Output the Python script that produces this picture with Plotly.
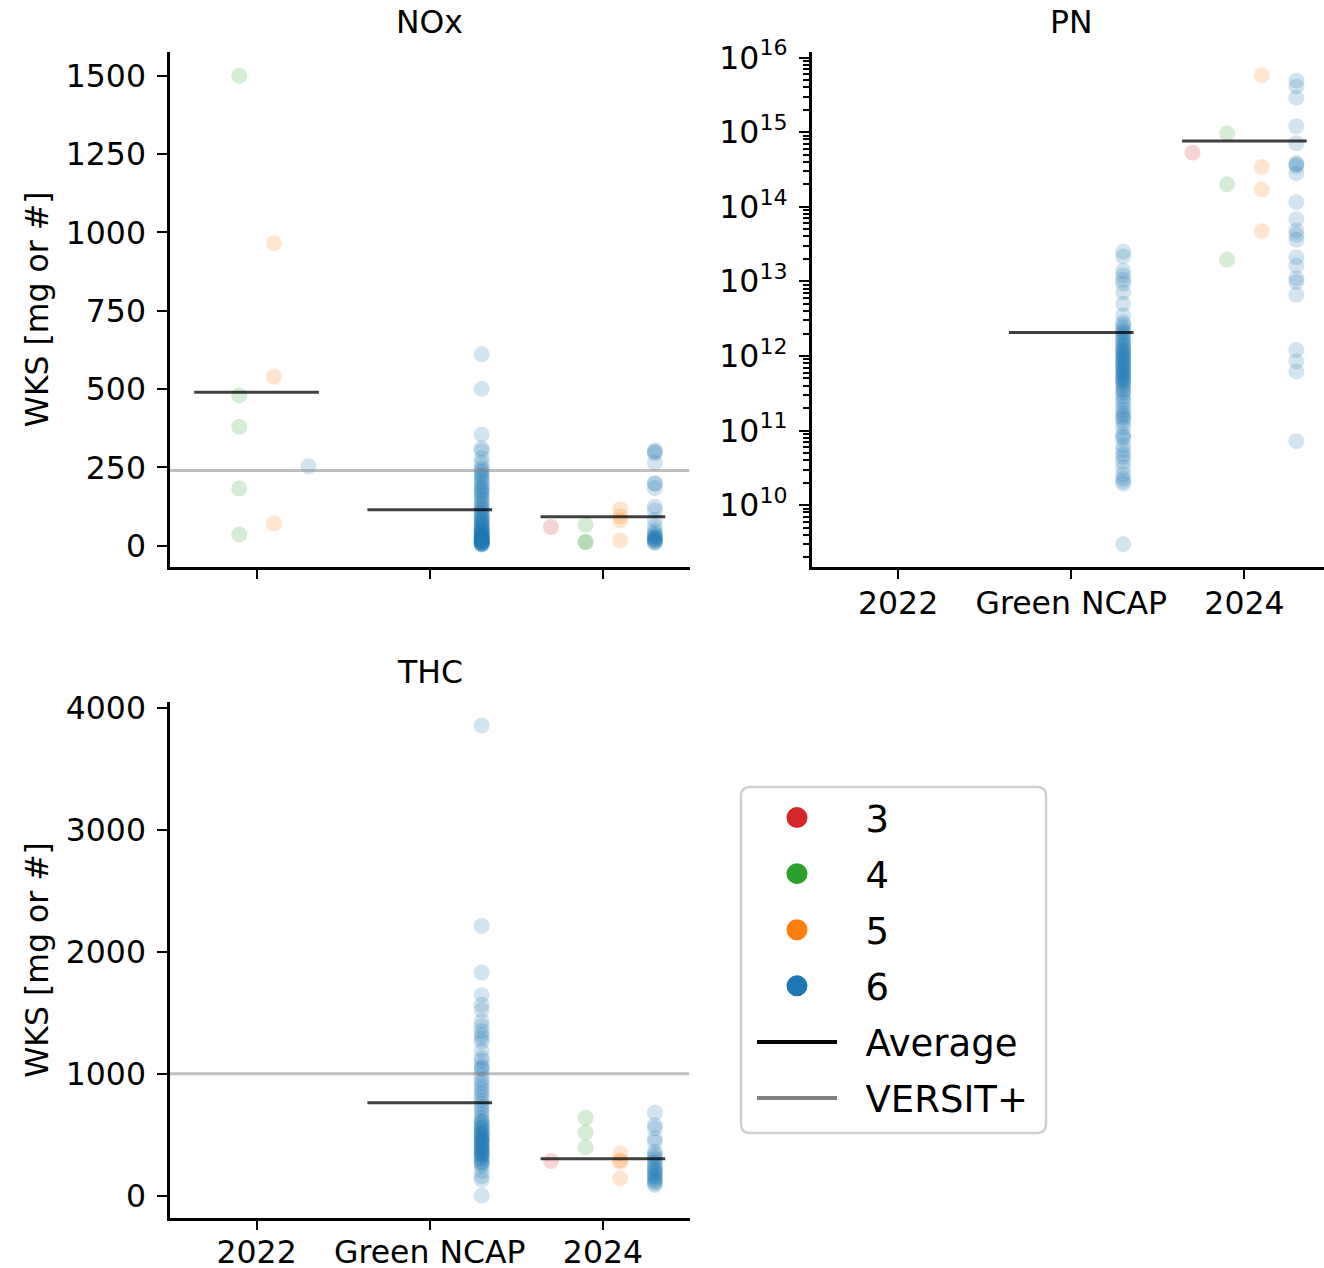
import plotly.graph_objects as go

FIG_W, FIG_H = 1324, 1268
FONT = "DejaVu Sans"

categories = ["2022", "Green NCAP", "2024"]
euro_classes = ["3", "4", "5", "6"]

# ---- NOx per test [mg] ----
nox_2022_euro4 = [1500, 480, 380, 183, 36]
nox_2022_euro5 = [966, 540, 71]
nox_2022_euro6 = [254]
nox_ncap_euro6 = [611, 501, 355, 311, 303, 280, 265, 250, 242, 236,
                  228, 222, 215, 205, 200, 190, 185, 178, 172, 166,
                  158, 150, 142, 135, 128, 121, 115, 110, 104, 98,
                  93, 88, 84, 80, 76, 72, 68, 64, 60, 57,
                  54, 51, 48, 45, 42, 40, 38, 36, 34, 32,
                  30, 28, 26, 24, 22, 20, 19, 18, 16, 15,
                  14, 12, 11, 10, 9, 8, 7, 6, 5, 4]
nox_2024_euro3 = [60]
nox_2024_euro4 = [67, 12, 12]
nox_2024_euro5 = [117, 94, 81, 17]
nox_2024_euro6 = [304, 300, 296, 266, 200, 198, 184, 125, 113, 83, 62,
                  48, 40, 35, 30, 26, 25, 22, 20, 17, 14, 11, 9]

# ---- PN per test [#] ----
pn_ncap_euro6 = [2.5e13, 2.14e13, 1.38e13, 1.2e13, 1.05e13, 9.3e12, 7.1e12, 5.0e12, 3.5e12,
                 2.8e12, 2.6e12, 2.4e12, 2.2e12, 2.1e12, 1.95e12, 1.8e12, 1.7e12, 1.6e12, 1.5e12,
                 1.4e12, 1.35e12, 1.25e12, 1.2e12, 1.15e12, 1.1e12, 1.05e12, 1.0e12, 9.5e11, 9.1e11,
                 8.7e11, 8.3e11, 7.9e11, 7.6e11, 7.2e11, 6.9e11, 6.6e11, 6.3e11, 6.0e11, 5.8e11,
                 5.5e11, 5.2e11, 5.0e11, 4.8e11, 4.6e11, 4.4e11, 4.2e11, 3.9e11, 3.6e11, 3.4e11,
                 3.2e11, 2.9e11, 2.6e11, 2.4e11, 2.1e11, 1.9e11, 1.7e11, 1.6e11, 1.5e11, 1.4e11,
                 1.25e11, 1.1e11, 8.9e10, 8.3e10, 7.8e10, 6.3e10, 5.5e10, 4.8e10, 4.4e10, 3.8e10,
                 3.2e10, 2.6e10, 2.3e10, 2.1e10, 1.95e10, 3.0e9]
pn_2024_euro3 = [5.3e14]
pn_2024_euro4 = [9.6e14, 2.0e14, 1.96e13]
pn_2024_euro5 = [5.8e15, 3.4e14, 1.7e14, 4.7e13]
pn_2024_euro6 = [4.9e15, 4.1e15, 2.9e15, 1.2e15, 7.1e14, 3.8e14, 3.7e14, 2.8e14,
                 1.15e14, 6.8e13, 4.8e13, 4.2e13, 3.6e13, 2.1e13, 1.62e13, 1.1e13,
                 9.8e12, 6.6e12, 1.2e12, 8.5e11, 6.2e11, 7.2e10, 3.5e14]

# ---- THC per test [mg] ----
thc_ncap_euro6 = [3856, 2212, 1830, 1644, 1565, 1520, 1431, 1389, 1350, 1318,
                  1290, 1262, 1191, 1130, 1106, 1063, 1045, 1035, 990, 950,
                  925, 894, 866, 840, 810, 780, 752, 725, 700, 668,
                  640, 611, 610, 590, 570, 560, 554, 535, 520, 515,
                  505, 498, 485, 470, 460, 455, 450, 440, 425, 413,
                  400, 395, 385, 380, 370, 356, 350, 340, 330, 325,
                  310, 300, 280, 270, 262, 243, 200, 158, 130, 0]
thc_2024_euro3 = [283]
thc_2024_euro4 = [638, 518, 395]
thc_2024_euro5 = [346, 290, 275, 141]
thc_2024_euro6 = [679, 578, 551, 469, 440, 360, 340, 318, 300, 277, 260, 236,
                  220, 210, 195, 180, 165, 154, 140, 125, 113, 100, 86]

# VERSIT+ reference emission per test
versit_nox = 240
versit_thc = 1000

# ---- styling ----
class_colors = {"3": "#d62728", "4": "#2ca02c", "5": "#ff7f0e", "6": "#1f77b4"}
hue_offset = {"3": -0.3, "4": -0.1, "5": 0.1, "6": 0.3}
MEAN_HALF_WIDTH = 0.36
MARKER_SIZE = 16
POINT_ALPHA = 0.2
FS = 31.5

panels = {
    "NOx": {
        "2022": {"4": nox_2022_euro4, "5": nox_2022_euro5, "6": nox_2022_euro6},
        "Green NCAP": {"6": nox_ncap_euro6},
        "2024": {"3": nox_2024_euro3, "4": nox_2024_euro4, "5": nox_2024_euro5, "6": nox_2024_euro6},
    },
    "PN": {
        "Green NCAP": {"6": pn_ncap_euro6},
        "2024": {"3": pn_2024_euro3, "4": pn_2024_euro4, "5": pn_2024_euro5, "6": pn_2024_euro6},
    },
    "THC": {
        "Green NCAP": {"6": thc_ncap_euro6},
        "2024": {"3": thc_2024_euro3, "4": thc_2024_euro4, "5": thc_2024_euro5, "6": thc_2024_euro6},
    },
}
panel_axes = {"NOx": ("x", "y"), "PN": ("x2", "y2"), "THC": ("x3", "y3")}
versit = {"NOx": versit_nox, "THC": versit_thc}


def hex_rgba(hx, a):
    hx = hx.lstrip("#")
    r, g, b = int(hx[0:2], 16), int(hx[2:4], 16), int(hx[4:6], 16)
    return f"rgba({r},{g},{b},{a})"


def px_x(px):
    return px / FIG_W


def px_y(py):
    return 1 - py / FIG_H


fig = go.Figure()

for panel, groups in panels.items():
    xa, ya = panel_axes[panel]
    # strip points, dodged by Euro class
    for ci, cat in enumerate(categories):
        by_class = groups.get(cat, {})
        for cls in euro_classes:
            vals = by_class.get(cls)
            if not vals:
                continue
            fig.add_trace(go.Scatter(
                x=[ci + hue_offset[cls]] * len(vals), y=vals,
                mode="markers", xaxis=xa, yaxis=ya, showlegend=False,
                marker=dict(size=MARKER_SIZE, color=hex_rgba(class_colors[cls], POINT_ALPHA),
                            line=dict(width=0)),
                hoverinfo="y",
            ))
    # VERSIT+ reference line across the whole panel
    if panel in versit:
        fig.add_trace(go.Scatter(
            x=[-0.5, 2.5], y=[versit[panel]] * 2, mode="lines",
            xaxis=xa, yaxis=ya, showlegend=False,
            line=dict(color="rgba(128,128,128,0.5)", width=3), hoverinfo="skip",
        ))
    # group averages
    for ci, cat in enumerate(categories):
        all_vals = [v for lst in groups.get(cat, {}).values() for v in lst]
        if not all_vals:
            continue
        mean = sum(all_vals) / len(all_vals)
        fig.add_trace(go.Scatter(
            x=[ci - MEAN_HALF_WIDTH, ci + MEAN_HALF_WIDTH], y=[mean, mean], mode="lines",
            xaxis=xa, yaxis=ya, showlegend=False,
            line=dict(color="rgba(0,0,0,0.75)", width=3), hoverinfo="skip",
        ))

# legend entries
PAD = "\u00a0\u00a0"
for i, cls in enumerate(euro_classes):
    fig.add_trace(go.Scatter(
        x=[None], y=[None], mode="markers", name=PAD + cls, legendgroup=f"g{i}",
        marker=dict(size=16, color=class_colors[cls],
                    line=dict(color=class_colors[cls], width=5)),
    ))
fig.add_trace(go.Scatter(x=[None], y=[None], mode="lines", name=PAD + "Average",
                         legendgroup="avg", line=dict(color="black", width=4)))
fig.add_trace(go.Scatter(x=[None], y=[None], mode="lines", name=PAD + "VERSIT+",
                         legendgroup="versit", line=dict(color="#808080", width=4)))

tick_font = dict(family=FONT, size=FS, color="black")
axis_common = dict(
    showline=True, linecolor="black", linewidth=2.5, mirror=False,
    ticks="outside", ticklen=10, tickwidth=2.2, tickcolor="black",
    showgrid=False, zeroline=False, tickfont=tick_font, automargin=False,
)

left_x0, left_x1 = 170, 689.5
top_y0, top_y1 = 52, 566.5
bot_y0, bot_y1 = 702, 1217.6
right_x0 = 811.5
cat_px = (left_x1 - left_x0) / 3.0

pn_minor = [k * 10 ** d for d in range(9, 17) for k in range(2, 10)]

fig.update_layout(
    width=FIG_W, height=FIG_H,
    margin=dict(l=0, r=0, t=0, b=0, autoexpand=False),
    paper_bgcolor="white", plot_bgcolor="white",
    font=dict(family=FONT, color="black"),
    xaxis=dict(domain=[px_x(left_x0), px_x(left_x1)], range=[-0.5, 2.5], anchor="y",
               tickvals=[0, 1, 2], ticktext=categories, showticklabels=False, **axis_common),
    yaxis=dict(domain=[px_y(top_y1), px_y(top_y0)], range=[-66, 1576], anchor="x",
               tickvals=[0, 250, 500, 750, 1000, 1250, 1500], ticklabelstandoff=5,
               **axis_common),
    xaxis2=dict(domain=[px_x(right_x0), 1.0],
                range=[-0.5, -0.5 + (FIG_W - right_x0) / cat_px], anchor="y2",
                tickvals=[0, 1, 2], ticktext=categories, ticklabelstandoff=-3, **axis_common),
    yaxis2=dict(domain=[px_y(top_y1), px_y(top_y0)], type="log", range=[9.178, 16.074],
                anchor="x2", tickvals=[10 ** d for d in range(10, 17)],
                ticktext=[f"10<sup>{d}</sup>" for d in range(10, 17)], ticklabelstandoff=5,
                minor=dict(tickmode="array", tickvals=pn_minor, ticks="outside",
                           ticklen=6, tickwidth=1.6, tickcolor="black", showgrid=False),
                **axis_common),
    xaxis3=dict(domain=[px_x(left_x0), px_x(left_x1)], range=[-0.5, 2.5], anchor="y3",
                tickvals=[0, 1, 2], ticktext=categories, ticklabelstandoff=-5, **axis_common),
    yaxis3=dict(domain=[px_y(bot_y1), px_y(bot_y0)], range=[-181, 4049], anchor="x3",
                tickvals=[0, 1000, 2000, 3000, 4000], ticklabelstandoff=5, **axis_common),
    legend=dict(
        x=px_x(752), y=px_y(787), xanchor="left", yanchor="top",
        bgcolor="rgba(0,0,0,0)", borderwidth=0,
        font=dict(family=FONT, size=37, color="black"),
        traceorder="grouped", tracegroupgap=5, itemwidth=80,
    ),
    showlegend=True,
)

# legend frame with rounded corners
lx0, ly0, lx1, ly1, rad = 741, 787, 1046, 1133, 9
frame = (f"M {px_x(lx0 + rad)},{px_y(ly0)} L {px_x(lx1 - rad)},{px_y(ly0)} "
         f"Q {px_x(lx1)},{px_y(ly0)} {px_x(lx1)},{px_y(ly0 + rad)} "
         f"L {px_x(lx1)},{px_y(ly1 - rad)} Q {px_x(lx1)},{px_y(ly1)} {px_x(lx1 - rad)},{px_y(ly1)} "
         f"L {px_x(lx0 + rad)},{px_y(ly1)} Q {px_x(lx0)},{px_y(ly1)} {px_x(lx0)},{px_y(ly1 - rad)} "
         f"L {px_x(lx0)},{px_y(ly0 + rad)} Q {px_x(lx0)},{px_y(ly0)} {px_x(lx0 + rad)},{px_y(ly0)} Z")
fig.add_shape(type="path", path=frame, xref="paper", yref="paper",
              line=dict(color="#d0d0d0", width=2.5), fillcolor="white", layer="below")

# panel titles
title_font = dict(family=FONT, size=FS, color="black")
panel_titles = [("NOx", (left_x0 + left_x1) / 2, 22),
                ("PN", right_x0 + 1.5 * cat_px, 22),
                ("THC", (left_x0 + left_x1) / 2, 672)]
for text, cx, cy in panel_titles:
    fig.add_annotation(text=text, x=px_x(cx), y=px_y(cy), xref="paper", yref="paper",
                       xanchor="center", yanchor="middle", showarrow=False, font=title_font)

# y-axis labels
for cy in [(top_y0 + top_y1) / 2, (bot_y0 + bot_y1) / 2]:
    fig.add_annotation(text="WKS [mg or #]", x=px_x(37), y=px_y(cy), xref="paper", yref="paper",
                       xanchor="center", yanchor="middle", textangle=-90, showarrow=False,
                       font=dict(family=FONT, size=FS, color="black"))

fig.write_html("out.html")
